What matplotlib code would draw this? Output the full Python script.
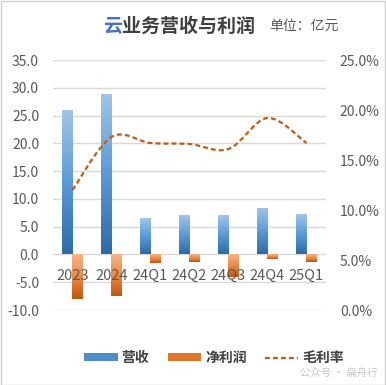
import matplotlib
matplotlib.use("Agg")
import matplotlib.pyplot as plt
import numpy as np
from matplotlib.path import Path
from matplotlib.patches import PathPatch, Rectangle, Patch
from matplotlib.lines import Line2D
from matplotlib.colors import LinearSegmentedColormap

plt.rcParams['font.family'] = ['Noto Sans CJK SC', 'DejaVu Sans']

categories = ["2023", "2024", "24Q1", "24Q2", "24Q3", "24Q4", "25Q1"]
revenue = [25.8, 28.7, 6.4, 7.0, 7.0, 8.2, 7.1]
net_profit = [-8.1, -7.4, -1.5, -1.3, -4.0, -0.8, -1.3]
gross_margin = [12.0, 17.3, 16.7, 16.6, 16.1, 19.2, 16.7]
left_ticks = [-10, -5, 0, 5, 10, 15, 20, 25, 30, 35]
right_ticks = [0, 5, 10, 15, 20, 25]

W, H = 386, 385
fig = plt.figure(figsize=(W / 100, H / 100), dpi=100)
fig.patch.set_facecolor("white")

L, R, T, B = 53, 326, 60, 310
ax = fig.add_axes([L / W, 1 - B / H, (R - L) / W, (B - T) / H])
ax2 = ax.twinx()

grey = "#595959"
grid_c = "#D9D9D9"

ax.set_xlim(-0.5, len(categories) - 0.5)
ax.set_ylim(-10, 35)
ax2.set_ylim(0, 25)
ax.set_yticks(left_ticks)
ax.set_yticklabels([f"{v:.1f}" for v in left_ticks])
ax2.set_yticks(right_ticks)
ax2.set_yticklabels([f"{v:.1f}%" for v in right_ticks])
for a in (ax, ax2):
    for s in a.spines.values():
        s.set_visible(False)
    a.tick_params(axis="y", length=0, labelsize=10, colors=grey, pad=10)
ax.set_xticks([])
ax2.set_xticks([])
ax.set_axisbelow(True)
ax.yaxis.grid(True, color=grid_c, lw=1)

blue_cmap = LinearSegmentedColormap.from_list("b", ["#2D6BA6", "#5B9BD5", "#A0C5E8"])
orange_cmap = LinearSegmentedColormap.from_list("o", ["#BF560F", "#EC8A45", "#F6B58A"])
grad = np.linspace(0, 1, 256).reshape(-1, 1)

bw = 0.28
x = np.arange(len(categories))
for i in range(len(categories)):
    # revenue bar
    x0, x1 = x[i] - bw, x[i]
    ax.imshow(grad, cmap=blue_cmap, origin="lower", aspect="auto",
              extent=[x0, x1, 0, revenue[i]], zorder=2, interpolation="bilinear")
    # net profit bar (top light at zero, dark at bottom)
    x0, x1 = x[i], x[i] + bw
    ax.imshow(grad, cmap=orange_cmap, origin="lower", aspect="auto",
              extent=[x0, x1, net_profit[i], 0], zorder=2, interpolation="bilinear")

ax.set_xlim(-0.5, len(categories) - 0.5)
ax.set_ylim(-10, 35)

# category labels next to zero line
for i, c in enumerate(categories):
    ax.annotate(c, xy=(x[i], 0), xytext=(0, -18.5), textcoords="offset points",
                ha="center", va="baseline", fontsize=10.5, color=grey, zorder=5)

# smoothed gross margin line (Catmull-Rom -> cubic Bezier)
pts = np.column_stack([x, gross_margin]).astype(float)
verts = [tuple(pts[0])]
codes = [Path.MOVETO]
n = len(pts)
for i in range(n - 1):
    p0 = pts[i - 1] if i > 0 else pts[i]
    p1 = pts[i]
    p2 = pts[i + 1]
    p3 = pts[i + 2] if i + 2 < n else pts[i + 1]
    c1 = p1 + (p2 - p0) / 6
    c2 = p2 - (p3 - p1) / 6
    verts += [tuple(c1), tuple(c2), tuple(p2)]
    codes += [Path.CURVE4] * 3
ax2.add_patch(PathPatch(Path(verts, codes), facecolor="none", edgecolor="#C55A11",
                        lw=1.6, linestyle=(0, (2.2, 1.4)), zorder=4))

# title
fig.text(103 / W, 1 - 26 / H, "云", fontsize=13.7, fontweight="bold", color="#4472C4",
         ha="left", va="center")
fig.text(122 / W, 1 - 26 / H, "业务营收与利润", fontsize=13.7, fontweight="bold",
         color="#404040", ha="left", va="center")
fig.text(269 / W, 1 - 26 / H, "单位：亿元", fontsize=10, color=grey, ha="left", va="center")

# legend
handles = [Patch(facecolor="#4F8DCB", edgecolor="none"),
           Patch(facecolor="#E07428", edgecolor="none"),
           Line2D([0], [0], color="#C55A11", lw=1.6, linestyle=(0, (2.2, 1.4)))]
fig.legend(handles, ["营收", "净利润", "毛利率"], loc="center",
           bbox_to_anchor=(214 / W, 1 - 358 / H), ncol=3, frameon=False,
           prop={"size": 10, "weight": "bold"}, labelcolor="#404040",
           handlelength=2.4, handleheight=0.5, handletextpad=0.3, columnspacing=1.3)

# watermark
fig.text(300 / W, 1 - 373 / H, "公众号 · 扁舟行", fontsize=7.5, color="#C8C8C8",
         ha="left", va="center")

# figure border
fig.add_artist(Rectangle((0.5 / W, 0.5 / H), 1 - 1.5 / W, 1 - 1.5 / H,
                         transform=fig.transFigure, fill=False, edgecolor="#D0D0D0", lw=1))

fig.savefig("out.png", dpi=100, facecolor="white")
